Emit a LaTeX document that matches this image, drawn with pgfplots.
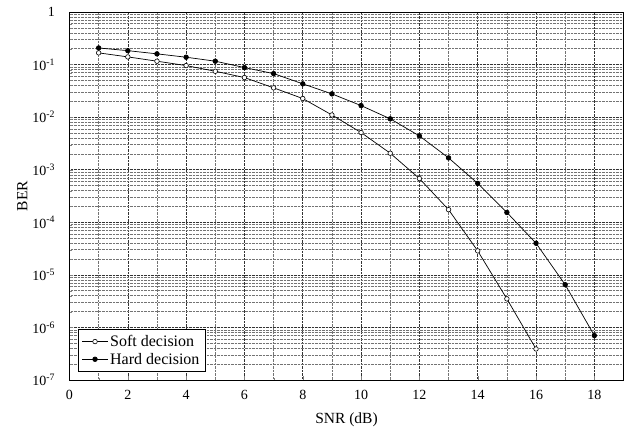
\documentclass[border=0pt]{standalone}
\usepackage{fontspec}
\setmainfont{Liberation Serif}
\usepackage{pgfplots}
\pgfplotsset{compat=1.18}

\begin{document}
\begin{tikzpicture}
\begin{axis}[
    width=554pt, height=368pt, scale only axis,
    xmin=0, xmax=19, ymin=1e-7, ymax=1,
    ymode=log,
    xtick={0,2,...,18}, minor xtick={1,3,...,19},
    ytick={1e-7,1e-6,1e-5,1e-4,1e-3,1e-2,1e-1,1},
    yticklabels={10\textsuperscript{-7},10\textsuperscript{-6},10\textsuperscript{-5},10\textsuperscript{-4},10\textsuperscript{-3},10\textsuperscript{-2},10\textsuperscript{-1},1},
    xticklabel style={/pgf/number format/assume math mode=true, font=\fontsize{14}{16}\selectfont, yshift=-7pt},
    yticklabel style={font=\fontsize{14}{16}\selectfont, xshift=-11pt},
    tick align=inside, ytick pos=left, xtick pos=bottom,
    major tick length=4pt, minor tick length=2.5pt,
    grid=both,
    major grid style={densely dotted, black!80, line width=0.6pt},
    minor grid style={densely dotted, black!55, line width=0.6pt},
    axis line style={line width=1pt},
    xlabel={SNR (dB)}, ylabel={BER},
    every axis x label/.style={at={(axis description cs:0.5,-0.109)}, anchor=center, font=\fontsize{15.5}{18}\selectfont},
    every axis y label/.style={at={(axis description cs:-0.085,0.5)}, rotate=90, anchor=center, font=\fontsize{15.5}{18}\selectfont},
    legend style={at={(0.0145,0.022)}, anchor=south west, font=\fontsize{16}{19}\selectfont,
        draw=black, line width=0.7pt, fill=white, row sep=1pt, inner xsep=4pt, inner ysep=4pt},
    legend image code/.code={
        \draw[mark repeat=2, mark phase=2, #1] plot coordinates {(0cm,0cm) (0.45cm,0cm) (0.9cm,0cm)};
    },
    legend cell align=left,
]
\addplot[black, line width=0.7pt, mark=*, mark options={fill=white, line width=0.6pt}, mark size=2.3pt] coordinates {
    (1,0.167) (2,0.14) (3,0.116) (4,0.0957) (5,0.0746) (6,0.0566) (7,0.0361) (8,0.0226)
    (9,0.011) (10,0.0051) (11,0.00206) (12,0.00068) (13,0.000174) (14,2.86e-5) (15,3.5e-6) (16,3.9e-7)
};
\addplot[black, line width=0.7pt, mark=*, mark options={fill=black}, mark size=2.3pt] coordinates {
    (1,0.207) (2,0.184) (3,0.16) (4,0.138) (5,0.116) (6,0.0877) (7,0.0674) (8,0.043)
    (9,0.0277) (10,0.0166) (11,0.0093) (12,0.0044) (13,0.00168) (14,0.00055) (15,0.000154)
    (16,4e-5) (17,6.5e-6) (18,7e-7)
};
\legend{Soft decision, Hard decision}
\end{axis}
\path (current axis.south west) ++(-69.5pt,-55pt);
\path (current axis.north east) ++(0.5pt,12pt);
\end{tikzpicture}
\end{document}
